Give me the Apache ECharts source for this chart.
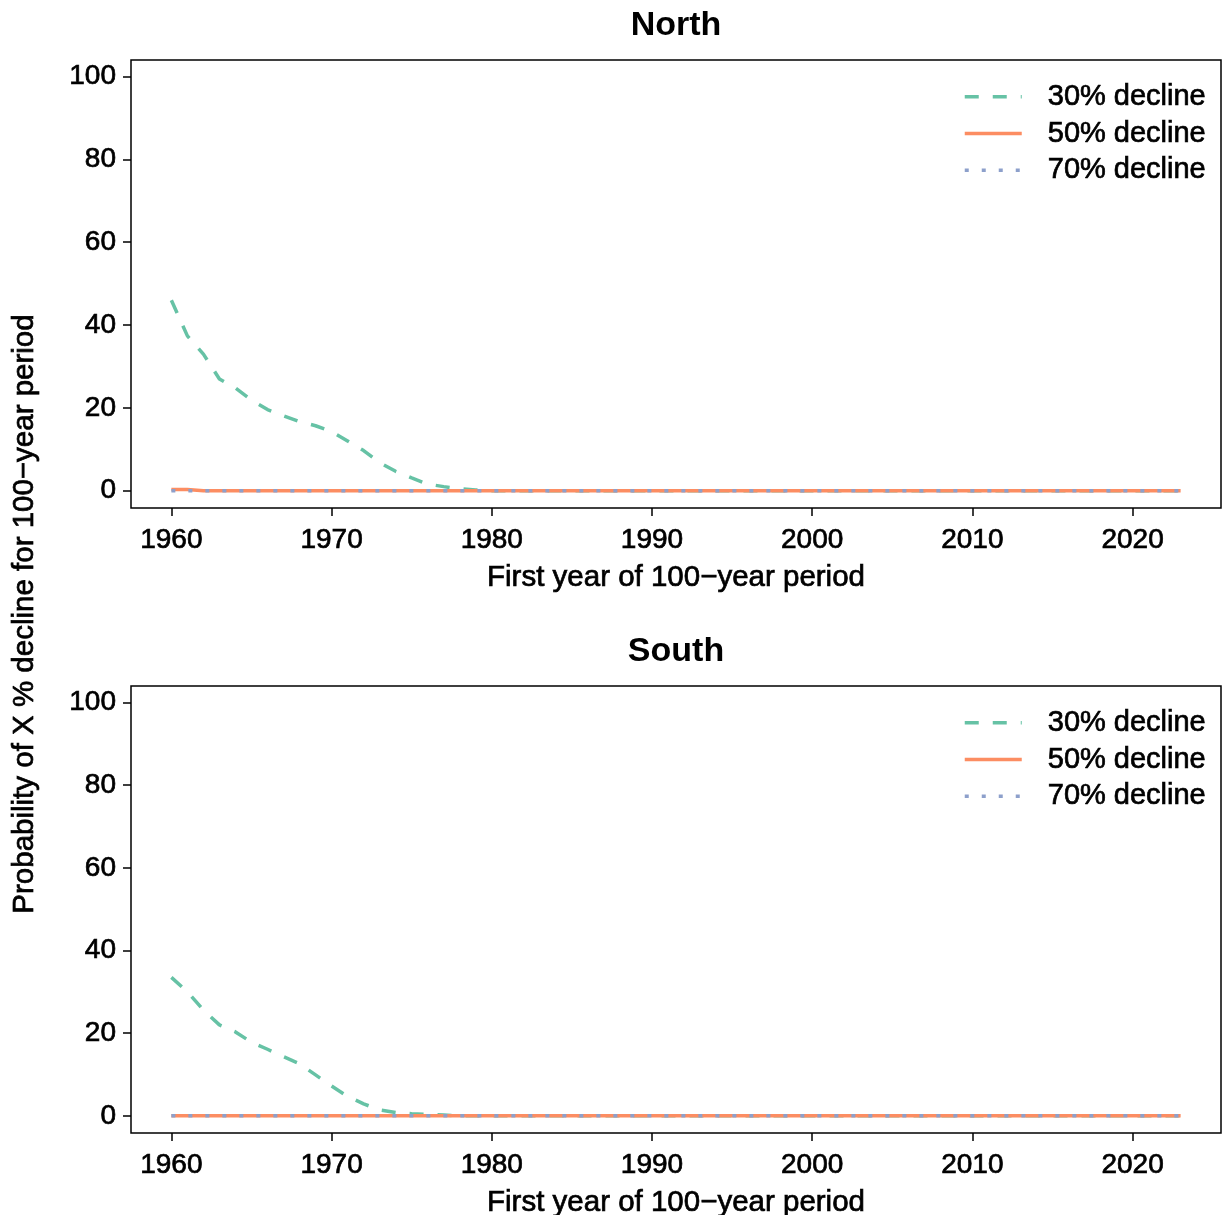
<!DOCTYPE html>
<html>
<head>
<meta charset="utf-8">
<script src="https://cdn.jsdelivr.net/npm/echarts@6/dist/echarts.min.js"></script>
<style>
html,body{margin:0;padding:0;background:#fff;}
#c{width:1225px;height:1215px;}
</style>
</head>
<body>
<div id="c"></div>
<script>
const years = [];
for (let y = 1960; y <= 2023; y++) years.push(y);

const panels = ['North', 'South'];
const seriesNames = ['30% decline', '50% decline', '70% decline'];
const xTicks = [1960, 1970, 1980, 1990, 2000, 2010, 2020];
const yTicks = [0, 20, 40, 60, 80, 100];

// North, values from 1960 onward; remaining years are 0
const north30 = [46, 37.4, 33, 27, 24.8, 21.9, 19.6, 18.1, 16.7, 15.7, 14.3, 12, 9.7, 6.8, 4.7, 3.1, 1.6, 1.0, 0.5, 0.2];
const north50 = [0.3, 0.3];
const north70 = [];
// South
const south30 = [33.5, 30, 25.6, 22, 20.3, 17.8, 16.1, 14.3, 12.6, 9.9, 7.2, 4.7, 2.9, 1.4, 0.8, 0.5, 0.3, 0.2];
const south50 = [];
const south70 = [];

function pad(arr) {
  return years.map((y, i) => [y, i < arr.length ? arr[i] : 0]);
}

const panelData = [[north30, north50, north70], [south30, south50, south70]];
const colors = ['#66C2A5', '#FC8D62', '#8DA0CB'];
const lineTypes = [[14, 14], 'solid', [4, 13]];

const FONT = "'Liberation Sans', Arial, sans-serif";
const gridTops = [60, 686];
const gridH = [448, 447];
const heavy = {textBorderColor: '#000', textBorderWidth: 0.7};

const chart = echarts.init(document.getElementById('c'), null, {renderer: 'canvas'});

const option = {
  animation: false,
  backgroundColor: '#fff',
  title: panels.map((p, i) => ({
    text: p,
    left: 676, textAlign: 'center',
    top: gridTops[i] - 51,
    padding: 0,
    textStyle: {fontFamily: FONT, fontSize: 34, fontWeight: 'bold', color: '#000'}
  })),
  grid: panels.map((p, i) => ({
    left: 131, right: 4, top: gridTops[i], height: gridH[i],
    outerBoundsMode: 'none', containLabel: false,
    show: true, borderColor: '#000', borderWidth: 1.5, backgroundColor: 'transparent'
  })),
  legend: panels.map((p, i) => ({
    orient: 'vertical',
    left: 963, top: gridTops[i] + 22,
    padding: 0,
    itemWidth: 57, itemHeight: 14, itemGap: 7,
    data: seriesNames,
    itemStyle: {opacity: 0},
    lineStyle: {width: 3.5},
    textStyle: Object.assign({fontFamily: FONT, fontSize: 29, color: '#000', padding: [0, 0, 0, 21]}, heavy),
    selectedMode: false
  })),
  xAxis: panels.map((p, i) => ({
    type: 'value', gridIndex: i,
    min: 1957.48, max: 2025.52,
    name: 'First year of 100\u2212year period',
    nameLocation: 'middle', nameGap: 55,
    nameTextStyle: Object.assign({fontFamily: FONT, fontSize: 29.5, color: '#000'}, heavy),
    axisLine: {show: false, onZero: false},
    axisTick: {show: true, inside: false, length: 8, customValues: xTicks, lineStyle: {color: '#000', width: 1.5}},
    axisLabel: Object.assign({customValues: xTicks, formatter: v => String(v), fontFamily: FONT, fontSize: 28, color: '#000', margin: 18}, heavy),
    splitLine: {show: false}
  })),
  yAxis: panels.map((p, i) => ({
    type: 'value', gridIndex: i,
    min: -4.16, max: 104,
    axisLine: {show: false, onZero: false},
    axisTick: {show: true, inside: false, length: 8, customValues: yTicks, lineStyle: {color: '#000', width: 1.5}},
    axisLabel: Object.assign({customValues: yTicks, fontFamily: FONT, fontSize: 28, color: '#000', margin: 15}, heavy),
    splitLine: {show: false}
  })),
  graphic: [{
    type: 'text',
    x: 25, y: 614,
    rotation: Math.PI / 2,
    style: {
      text: 'Probability of X % decline for 100\u2212year period',
      font: "29.5px 'Liberation Sans', Arial, sans-serif",
      fill: '#000', stroke: '#000', lineWidth: 0.7,
      align: 'center', verticalAlign: 'middle'
    }
  }],
  series: []
};

panels.forEach((p, i) => {
  seriesNames.forEach((n, k) => {
    option.series.push({
      name: n, type: 'line',
      xAxisIndex: i, yAxisIndex: i,
      data: pad(panelData[i][k]),
      symbol: 'none', smooth: false,
      color: colors[k],
      lineStyle: {color: colors[k], width: 3.5, type: lineTypes[k]},
      itemStyle: {color: colors[k]},
      z: 2 + k
    });
  });
});

chart.setOption(option);
</script>
</body>
</html>
